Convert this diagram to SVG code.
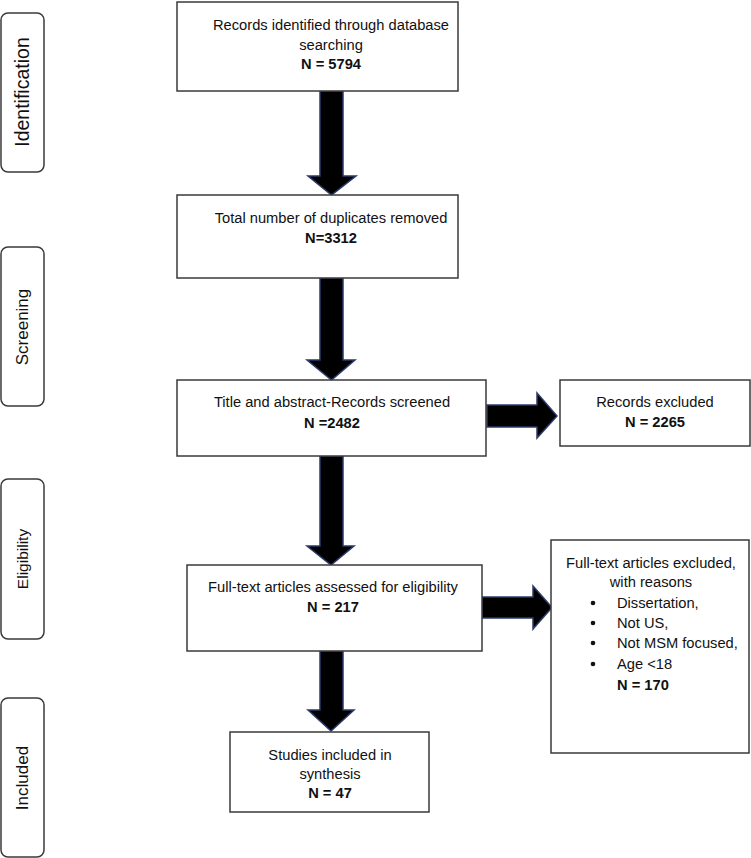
<svg xmlns="http://www.w3.org/2000/svg" width="751" height="858" viewBox="0 0 751 858">
<defs>
<style>
.box{fill:#fff;stroke:#3a3a3a;stroke-width:1.5}
.side{fill:#fff;stroke:#3a3a3a;stroke-width:1.5}
.arr{fill:#000;stroke:#2b3a6b;stroke-width:1.5;stroke-linejoin:miter}
text{font-family:"Liberation Sans",Arial,sans-serif;fill:#111}
.t{font-size:14.7px;text-anchor:middle}
.b{font-weight:bold}
.l{font-size:14.7px}
.s{text-anchor:middle}
</style>
</defs>
<rect width="751" height="858" fill="#fff"/>
<g id="side-identification"><rect class="side" x="1" y="13" width="43" height="159" rx="7"/><text class="s" font-size="19.5" transform="translate(29,92) rotate(-90)">Identification</text></g>
<g id="side-screening"><rect class="side" x="1" y="247" width="43" height="159" rx="7"/><text class="s" font-size="17" transform="translate(28,327) rotate(-90)">Screening</text></g>
<g id="side-eligibility"><rect class="side" x="1" y="479" width="43" height="160" rx="7"/><text class="s" font-size="15.5" transform="translate(27.5,559) rotate(-90)">Eligibility</text></g>
<g id="side-included"><rect class="side" x="1" y="698" width="43" height="159" rx="7"/><text class="s" font-size="17" transform="translate(28,778) rotate(-90)">Included</text></g>
<g id="connectors">
<polygon class="arr" points="320,91 343,91 343,176 356,176 331.5,195 308,176 320,176"/>
<polygon class="arr" points="320,278 343,278 343,360 355,360 331.5,380 307,360 320,360"/>
<polygon class="arr" points="320,456 343,456 343,546 354,546 331,565 307,546 320,546"/>
<polygon class="arr" points="320,651 343,651 343,710 354,710 331,731 308,710 320,710"/>
<polygon class="arr" points="487,405 537,405 537,393 557,416 537,438 537,427 487,427"/>
<polygon class="arr" points="482,597 533,597 533,586 552,607.5 533,629 533,618 482,618"/>
</g>
<g id="n-records"><rect class="box" x="177" y="2" width="281" height="89"/><text class="t" x="331" y="30">Records identified through database</text><text class="t" x="331" y="50">searching</text><text class="t b" x="331" y="68.5">N = 5794</text></g>
<g id="n-duplicates"><rect class="box" x="177" y="195" width="281" height="83"/><text class="t" x="331" y="223">Total number of duplicates removed</text><text class="t b" x="331" y="243">N=3312</text></g>
<g id="n-screened"><rect class="box" x="177" y="380" width="309" height="76"/><text class="t" x="332" y="407">Title and abstract-Records screened</text><text class="t b" x="332" y="428">N =2482</text></g>
<g id="n-excluded"><rect class="box" x="560" y="380" width="190" height="66"/><text class="t" x="655" y="407">Records excluded</text><text class="t b" x="655" y="427">N = 2265</text></g>
<g id="n-fulltext"><rect class="box" x="187" y="565" width="295" height="86"/><text class="t" x="333" y="592">Full-text articles assessed for eligibility</text><text class="t b" x="333" y="612">N = 217</text></g>
<g id="n-fulltext-excluded"><rect class="box" x="551" y="540" width="198" height="213"/>
<text class="t" x="651" y="568">Full-text articles excluded,</text>
<text class="t" x="651" y="587">with reasons</text>
<circle cx="593" cy="603" r="2.3" fill="#111"/><text class="l" x="617" y="608">Dissertation,</text>
<circle cx="593" cy="623" r="2.3" fill="#111"/><text class="l" x="617" y="628">Not US,</text>
<circle cx="593" cy="643" r="2.3" fill="#111"/><text class="l" x="617" y="648">Not MSM focused,</text>
<circle cx="593" cy="664" r="2.3" fill="#111"/><text class="l" x="617" y="669">Age &lt;18</text>
<text class="l b" x="617" y="690">N = 170</text></g>
<g id="n-included"><rect class="box" x="230" y="732" width="199" height="80"/><text class="t" x="330" y="760">Studies included in</text><text class="t" x="330" y="779">synthesis</text><text class="t b" x="330" y="798">N = 47</text></g>
</svg>
